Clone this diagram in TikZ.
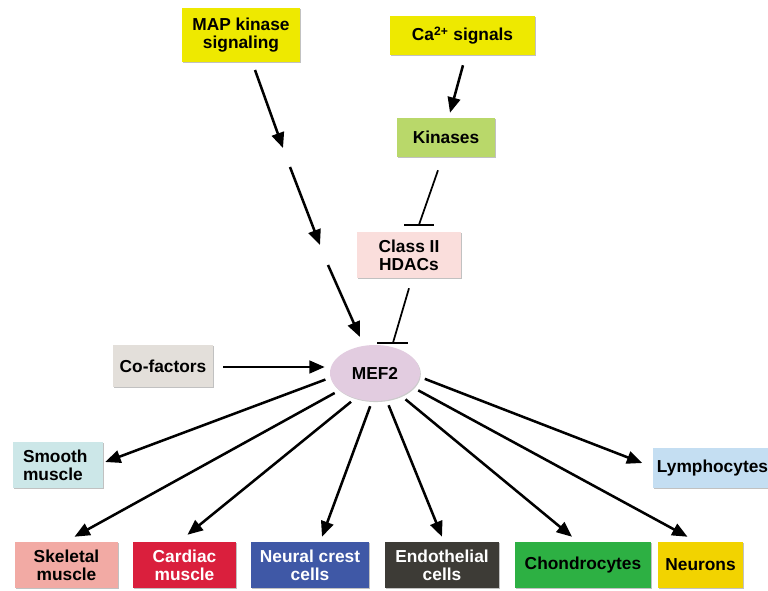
\documentclass[tikz,border=0pt]{standalone}
\usepackage{fontspec}
\setmainfont{Liberation Sans}
\usetikzlibrary{arrows.meta,calc,shapes.geometric,shadows}
\definecolor{cyel}{RGB}{238,233,0}
\definecolor{ckin}{RGB}{185,216,106}
\definecolor{chdac}{RGB}{250,222,220}
\definecolor{cmef}{RGB}{226,204,224}
\definecolor{ccof}{RGB}{227,223,218}
\definecolor{csmooth}{RGB}{204,231,232}
\definecolor{clymph}{RGB}{196,222,242}
\definecolor{cskel}{RGB}{242,170,164}
\definecolor{ccard}{RGB}{218,31,61}
\definecolor{cneural}{RGB}{63,88,166}
\definecolor{cendo}{RGB}{61,59,54}
\definecolor{cchon}{RGB}{45,176,67}
\definecolor{cneu}{RGB}{242,211,0}
\tikzset{
  box/.style={rectangle, inner sep=0pt, align=center,
    font=\fontsize{13}{13.5}\selectfont\bfseries,
    drop shadow={shadow xshift=0.8pt, shadow yshift=-0.8pt, fill=black!40, opacity=0.6}},
  arr/.style={line width=1.9pt, -{Triangle[length=11.5pt,width=9.5pt]}},
  inh/.style={line width=1.3pt},
}
\begin{document}
\begin{tikzpicture}[x=0.75pt,y=-0.75pt]
\fill[white] (0,0) rectangle (768,590);
\clip (0,0) rectangle (768,590);

% top
\node[box, fill=cyel, minimum width=118*0.75pt, minimum height=54*0.75pt] (map) at (241,35) {MAP kinase\\signaling};
\node[box, fill=cyel, minimum width=145*0.75pt, minimum height=39*0.75pt] (ca) at (462.5,35.5) {Ca\textsuperscript{2+} signals};
\node[box, fill=ckin, minimum width=98*0.75pt, minimum height=39*0.75pt] (kin) at (446,137.5) {Kinases};
\node[box, fill=chdac, minimum width=104*0.75pt, minimum height=46*0.75pt] (hdac) at (409,255) {Class II\\HDACs};
\node[box, fill=ccof, minimum width=100*0.75pt, minimum height=42*0.75pt] (cof) at (163,366) {Co-factors};
\node[ellipse, inner sep=0pt, fill=cmef, minimum width=90*0.75pt, minimum height=56*0.75pt,
  font=\fontsize{13}{13.5}\selectfont\bfseries,
  drop shadow={shadow xshift=0.6pt, shadow yshift=-0.8pt, fill=black!40, opacity=0.5}] (mef) at (375,373) {MEF2};

% targets
\node[box, fill=csmooth, align=left, minimum width=90*0.75pt, minimum height=46*0.75pt, inner xsep=10*0.75pt, text width=70*0.75pt] (sm) at (58,465) {Smooth\\muscle};
\node[box, fill=clymph, minimum width=120*0.75pt, minimum height=40*0.75pt] (ly) at (712.5,468) {Lymphocytes};
\node[box, fill=cskel, minimum width=103*0.75pt, minimum height=46*0.75pt] (sk) at (66.5,565) {Skeletal\\muscle};
\node[box, fill=ccard, text=white, minimum width=103*0.75pt, minimum height=46*0.75pt] (cd) at (184.5,565) {Cardiac\\muscle};
\node[box, fill=cneural, text=white, minimum width=118*0.75pt, minimum height=46*0.75pt] (nc) at (310,565) {Neural crest\\cells};
\node[box, fill=cendo, text=white, minimum width=114*0.75pt, minimum height=46*0.75pt] (en) at (442,565) {Endothelial\\cells};
\node[box, fill=cchon, minimum width=136*0.75pt, minimum height=46*0.75pt] (ch) at (583,565) {Chondrocytes};
\node[box, fill=cneu, minimum width=85*0.75pt, minimum height=46*0.75pt] (ne) at (700.5,565) {Neurons};

% MAP kinase arrow, drawn in three pieces
\coordinate (m1a) at (255,70);
\coordinate (m1b) at (283,148);
\coordinate (m2a) at (290,167);
\coordinate (m2b) at (320,245);
\coordinate (m3a) at (328,265);
\coordinate (m3b) at (360,337);
\draw[arr] (m1a) -- (m1b);
\draw[arr] (m2a) -- (m2b);
\draw[arr] (m3a) -- (m3b);

% Ca -> kinases
\draw[arr] ($(ca.south)+(0.5,10)$) -- ($(kin.north)+(4,-5)$);
% kinases -| HDACs
\draw[inh] ($(kin.south)+(-8,13)$) -- ($(hdac.north)+(10,-7)$);
\draw[line width=1.5pt] ($(hdac.north)+(-5,-7)$) -- ($(hdac.north)+(25,-7)$);
% HDACs -| MEF2
\draw[inh] ($(hdac.south)+(0,10)$) -- ($(mef.north)+(18,-2)$);
\draw[line width=1.5pt] ($(mef.north)+(2,-2)$) -- ($(mef.north)+(33,-2)$);
% co-factors -> MEF2
\draw[arr] ($(cof.east)+(10,1)$) -- ($(mef.west)+(-5,-6)$);

% MEF2 -> targets
\draw[arr, shorten <=4pt] (mef.186) -- ($(sm.east)+(2,-3)$);
\draw[arr, shorten <=4pt] (mef.206) -- ($(sk.north)+(8,-5)$);
\draw[arr, shorten <=4pt] (mef.232) -- ($(cd.north)+(3,-7)$);
\draw[arr, shorten <=4pt] (mef.264) -- ($(nc.north)+(12,-5)$);
\draw[arr, shorten <=4pt] (mef.293) -- ($(en.north)+(0,-5)$);
\draw[arr, shorten <=4pt] (mef.319) -- ($(ch.north)+(-11,-5)$);
\draw[arr, shorten <=4pt] (mef.339) -- ($(ne.north)+(-13,-5)$);
\draw[arr, shorten <=4pt] (mef.355) -- ($(ly.west)+(-10,-5)$);
\end{tikzpicture}
\end{document}
